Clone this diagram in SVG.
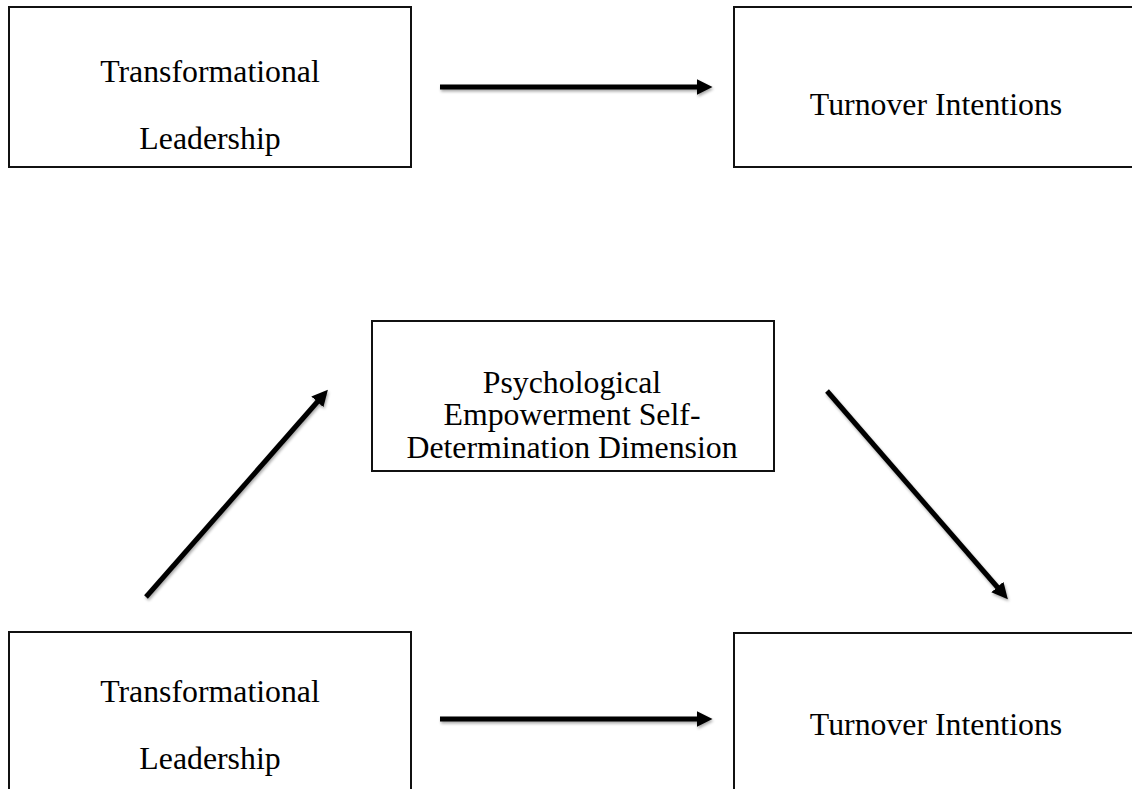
<svg xmlns="http://www.w3.org/2000/svg" width="1132" height="789" viewBox="0 0 1132 789">
<style>
.box{fill:#fff;stroke:#111;stroke-width:2}
.lbl{font-family:"Liberation Serif","Times New Roman",serif;font-size:31.8px;fill:#000;text-anchor:middle}
.conn{stroke:#000;stroke-width:5;fill:none;marker-end:url(#ah);filter:url(#sh)}
</style>
<defs>
<marker id="ah" markerWidth="4" markerHeight="4" refX="0.5" refY="2" orient="auto" markerUnits="strokeWidth">
<path d="M0,0.4 L3.2,2 L0,3.6 Z" fill="#000"/>
</marker>
<filter id="sh" filterUnits="userSpaceOnUse" x="0" y="0" width="1132" height="789">
<feGaussianBlur in="SourceAlpha" stdDeviation="1.5"/>
<feOffset dx="1" dy="2" result="b"/>
<feComponentTransfer><feFuncA type="linear" slope="0.35"/></feComponentTransfer>
<feMerge><feMergeNode/><feMergeNode in="SourceGraphic"/></feMerge>
</filter>
</defs>
<rect width="1132" height="789" fill="#fff"/>
<g id="connectors">
<line class="conn" x1="440" y1="87" x2="699" y2="87"/>
<line class="conn" x1="440" y1="719" x2="699" y2="719"/>
<line class="conn" x1="146" y1="597" x2="319" y2="400"/>
<line class="conn" x1="827" y1="391" x2="999" y2="589"/>
</g>
<g id="n1">
<rect class="box" x="9" y="7" width="402" height="160"/>
<text class="lbl" x="210" y="82">Transformational</text>
<text class="lbl" x="210" y="149">Leadership</text>
</g>
<g id="n2">
<rect class="box" x="734" y="7" width="410" height="160"/>
<text class="lbl" x="936" y="115">Turnover Intentions</text>
</g>
<g id="n3">
<rect class="box" x="372" y="321" width="402" height="150"/>
<text class="lbl" x="572" y="393">Psychological</text>
<text class="lbl" x="572" y="425">Empowerment Self-</text>
<text class="lbl" x="572" y="458">Determination Dimension</text>
</g>
<g id="n4">
<rect class="box" x="9" y="632" width="402" height="170"/>
<text class="lbl" x="210" y="702">Transformational</text>
<text class="lbl" x="210" y="769">Leadership</text>
</g>
<g id="n5">
<rect class="box" x="734" y="633" width="410" height="170"/>
<text class="lbl" x="936" y="735">Turnover Intentions</text>
</g>
</svg>
